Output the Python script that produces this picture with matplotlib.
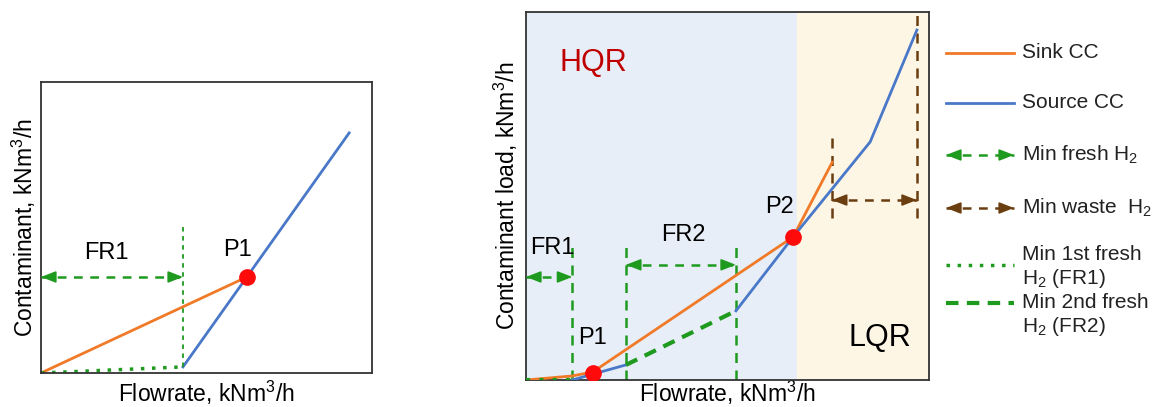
import matplotlib.pyplot as plt
from matplotlib.lines import Line2D

plt.rcParams['font.family'] = ['Liberation Sans', 'DejaVu Sans']
plt.rcParams['mathtext.fontset'] = 'custom'
plt.rcParams['mathtext.rm'] = 'Liberation Sans'
plt.rcParams['mathtext.it'] = 'Liberation Sans:italic'

# --- single-stage targeting (left) ---
sink1_x = [0, 62.2]
sink1_y = [0, 33.0]
source1_x = [42.9, 93.1]
source1_y = [2.1, 82.5]
fresh1_x = [0, 42.9]
fresh1_y = [0, 2.1]
fr1_top_left = 50.2
pinch1 = (62.2, 33.0)

# --- two-stage targeting (right) ---
sink_x = [0, 11.5, 16.6, 66.3, 76.0]
sink_y = [0, 1.1, 2.2, 38.9, 59.2]
source_x = [11.5, 16.6, 24.8, 52.1, 66.3, 85.4, 97.0]
source_y = [0, 1.6, 4.1, 18.8, 38.9, 64.7, 95.1]
pinches = {'P1': (16.6, 1.9), 'P2': (66.3, 38.9)}
fr_lines = [11.5, 24.8, 52.1]       # fresh-resource boundaries
fr_top = 36.4
waste_lines = [(75.9, 44.0, 66.0), (97.0, 44.0, 100.0)]
hqr_end = 67.2

ORANGE = '#F07A28'
BLUE = '#4A78C8'
GREEN = '#1E9A1E'
BROWN = '#6B3E10'
RED = '#FF0A0A'

fig = plt.figure(figsize=(11.57, 4.07), dpi=100)


def double_arrow(ax, x0, x1, y, color):
    # dashed shaft plus two solid heads pointing outwards
    ax.plot([x0, x1], [y, y], color=color, lw=1.8, ls=(0, (3.5, 3)), zorder=4)
    for x, dx in ((x0, 10), (x1, -10)):
        ax.annotate('', xy=(x, y), xytext=(dx, 0), textcoords='offset points',
                    arrowprops=dict(arrowstyle='-|>,head_length=0.9,head_width=0.35',
                                    color=color, lw=1.2, shrinkA=0, shrinkB=0),
                    zorder=4)


# left panel
ax1 = fig.add_axes([41 / 1157, 34 / 407, 331 / 1157, 291 / 407])
ax1.set_xlim(0, 100)
ax1.set_ylim(0, 100)
ax1.plot(sink1_x, sink1_y, color=ORANGE, lw=2)
ax1.plot(source1_x, source1_y, color=BLUE, lw=2)
ax1.plot(fresh1_x, fresh1_y, color=GREEN, lw=2.5, ls=(0, (1, 2.2)))
ax1.plot([fresh1_x[1], fresh1_x[1]], [fresh1_y[1], fr1_top_left], color=GREEN, lw=1.3, ls=(0, (2.5, 2.5)))
double_arrow(ax1, 0, fresh1_x[1], pinch1[1], GREEN)
ax1.plot(*pinch1, 'o', color=RED, ms=11, zorder=5)
ax1.text(19.9, 41.2, 'FR1', fontsize=17, ha='center', va='center')
ax1.text(59.5, 42.3, 'P1', fontsize=17, ha='center', va='center')
ax1.set_xticks([])
ax1.set_yticks([])
ax1.set_xlabel('Flowrate, kNm$^3$/h', fontsize=16.5, labelpad=4)
ax1.set_ylabel('Contaminant, kNm$^3$/h', fontsize=16.5, labelpad=2)
for s in ax1.spines.values():
    s.set_color('#333333')
    s.set_linewidth(1.3)

# right panel
ax2 = fig.add_axes([526 / 1157, 27 / 407, 403 / 1157, 368 / 407])
ax2.set_xlim(0, 100)
ax2.set_ylim(0, 100)
ax2.axvspan(0, hqr_end, color='#E7EEF7', zorder=0)
ax2.axvspan(hqr_end, 100, color='#FEF6E5', zorder=0)

ax2.plot(sink_x, sink_y, color=ORANGE, lw=2, zorder=3)
ax2.plot(source_x[:3], source_y[:3], color=BLUE, lw=2, zorder=3)
ax2.plot(source_x[3:], source_y[3:], color=BLUE, lw=2, zorder=3)
ax2.plot(source_x[2:4], source_y[2:4], color=GREEN, lw=3, ls=(0, (3, 2)), zorder=3)
ax2.plot([0, fr_lines[0]], [0, 0], color=GREEN, lw=3, ls=(0, (1, 2.2)), zorder=3)

for x in fr_lines:
    ax2.plot([x, x], [0, fr_top], color=GREEN, lw=1.8, ls=(0, (4, 3)), zorder=2)
double_arrow(ax2, 0, fr_lines[0], 28.0, GREEN)
double_arrow(ax2, fr_lines[1], fr_lines[2], 31.3, GREEN)

for x, y0, y1 in waste_lines:
    ax2.plot([x, x], [y0, y1], color=BROWN, lw=1.8, ls=(0, (4, 3)), zorder=2)
double_arrow(ax2, waste_lines[0][0], waste_lines[1][0], 48.9, BROWN)

for name, (px, py) in pinches.items():
    ax2.plot(px, py, 'o', color=RED, ms=11, zorder=5)
ax2.text(16.4, 11.4, 'P1', fontsize=17, ha='center', va='center')
ax2.text(63.0, 47.0, 'P2', fontsize=17, ha='center', va='center')
ax2.text(6.5, 35.9, 'FR1', fontsize=17, ha='center', va='center')
ax2.text(39.0, 39.4, 'FR2', fontsize=17, ha='center', va='center')
ax2.text(16.6, 86.1, 'HQR', fontsize=22, color='#C00000', ha='center', va='center')
ax2.text(87.8, 11.4, 'LQR', fontsize=22, ha='center', va='center')
ax2.set_xticks([])
ax2.set_yticks([])
ax2.set_xlabel('Flowrate, kNm$^3$/h', fontsize=16.5, labelpad=-1)
ax2.set_ylabel('Contaminant load, kNm$^3$/h', fontsize=16.5, labelpad=4)
for s in ax2.spines.values():
    s.set_color('#333333')
    s.set_linewidth(1.3)

# legend, laid out in pixel units on an overlay axes
lg = fig.add_axes([0, 0, 1, 1], zorder=10)
lg.set_xlim(0, 1157)
lg.set_ylim(407, 0)
lg.axis('off')
hx0, hx1, tx = 946, 1014, 1022
lg.add_line(Line2D([hx0, hx1], [53, 53], color=ORANGE, lw=2))
lg.add_line(Line2D([hx0, hx1], [103, 103], color=BLUE, lw=2))
double_arrow(lg, hx0, hx1, 155, GREEN)
double_arrow(lg, hx0, hx1, 208, BROWN)
lg.add_line(Line2D([hx0, hx1], [265, 265], color=GREEN, lw=2.5, ls=(0, (1, 2.2))))
lg.add_line(Line2D([hx0, hx1], [303, 303], color=GREEN, lw=3, ls=(0, (3, 2))))
labels = [(53, 'Sink CC'), (103, 'Source CC'), (155, 'Min fresh H$_2$'),
          (208, 'Min waste  H$_2$'), (255, 'Min 1st fresh'), (279, 'H$_2$ (FR1)'),
          (303, 'Min 2nd fresh'), (327, 'H$_2$ (FR2)')]
for y, t in labels:
    lg.text(tx, y, t, fontsize=15, ha='left', va='center', color='#222222')

fig.savefig('out.png', dpi=100)
